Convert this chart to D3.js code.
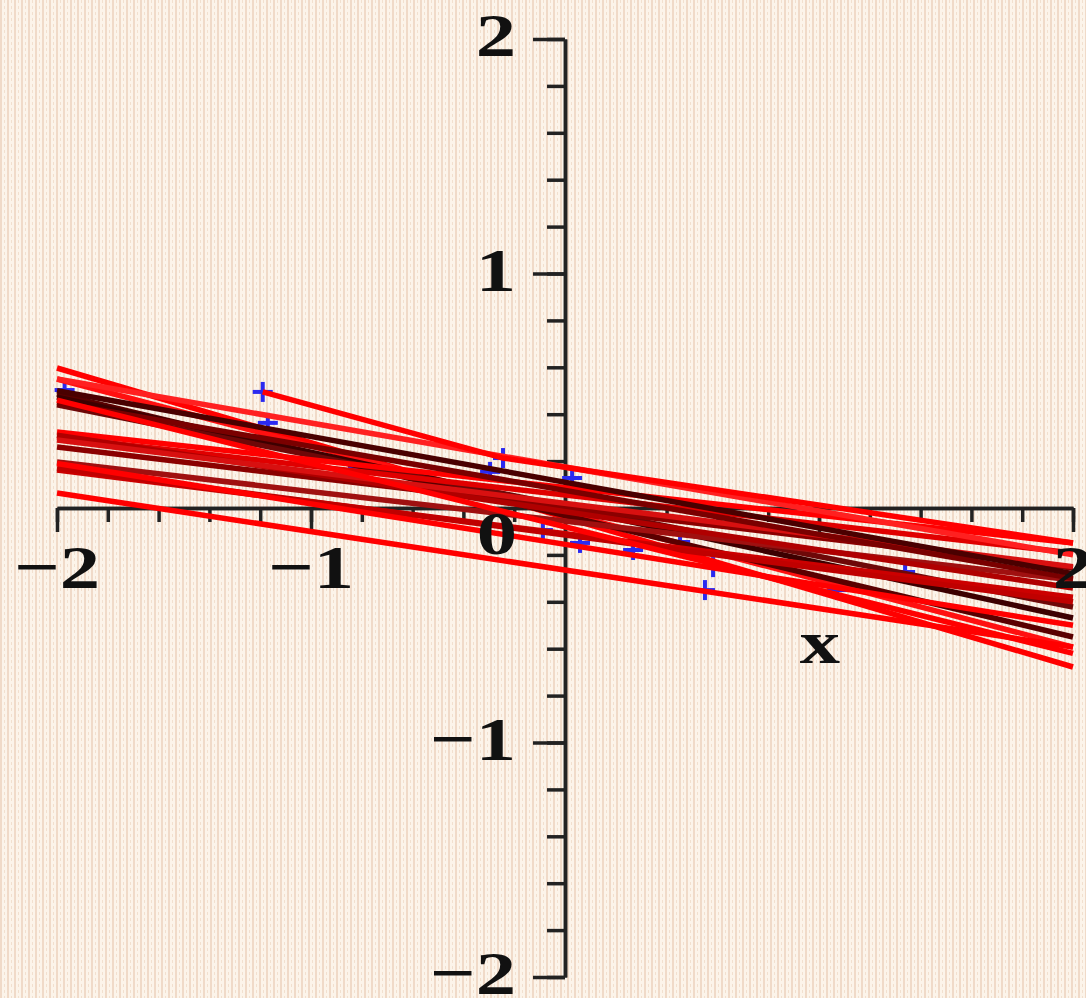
<!DOCTYPE html>
<html>
<head>
<meta charset="utf-8">
<script src="https://cdn.jsdelivr.net/npm/d3@7"></script>
<style>
  html, body { margin: 0; padding: 0; overflow: hidden; background: #faf0e4; }
  svg { display: block; }
</style>
</head>
<body>
<main></main>
<script>
// fitted lines: y value at the left end (x = -2) and right end (x = 2)
const lineLeft  = [0.597, 0.550, 0.486, 0.473, 0.440, 0.324, 0.303, 0.260, 0.196, 0.162, 0.064,
                   0.310, 0.290, 0.450, 0.500, 0.550, 0.170, 0.190, 0.460];
const lineRight = [-0.678, -0.593, -0.550, -0.469, -0.422, -0.149, -0.192, -0.256, -0.307, -0.380, -0.593,
                   -0.341, -0.250, -0.300, -0.280, -0.200, -0.400, -0.500, -0.620];
const lineColours = ["#ff0000", "#ff1010", "#5a0000", "#3d0000", "#6e0808", "#ff0000", "#e00000", "#8b0000",
                     "#a01010", "#cc0000", "#ff0000", "#b00000", "#d81010", "#7a0000", "#4a0000", "#ff2020",
                     "#c00000", "#ff0000", "#ff0000"];

// broken line along the top of the bundle
const topPathX = [-1.19, -0.244, 2];
const topPathY = [0.495, 0.213, -0.149];

// data points (blue crosses)
const pointX = [-1.97, -1.19, -1.17, -0.815, -0.244, -0.295, 0.028, -0.087, 0.059, 0.268, 0.583, 0.551, 1.071, 1.339, 0.453];
const pointY = [0.503, 0.495, 0.363, 0.175, 0.213, 0.154, 0.128, -0.094, -0.149, -0.179, -0.252, -0.350, -0.350, -0.273, -0.145];

const xTicks = [-2, -1, 2];
const yTicks = [2, 1, -1, -2];

const width = 1086, height = 998;

d3.select("main").append("svg").attr("width", width).attr("height", height);
let svg = d3.select("svg");

// textured beige background
let defs = svg.append("defs");
let pat = defs.append("pattern")
    .attr("id", "paper")
    .attr("width", 7).attr("height", 6)
    .attr("patternUnits", "userSpaceOnUse");
pat.append("rect").attr("width", 7).attr("height", 6).attr("fill", "#fcf4ea");
pat.append("rect").attr("x", 0).attr("width", 2).attr("height", 6).attr("fill", "#eed6c2").attr("opacity", 0.85);
pat.append("rect").attr("x", 4).attr("y", 0).attr("width", 1).attr("height", 3).attr("fill", "#f2e0cf");

svg.append("rect").attr("width", width).attr("height", height).attr("fill", "url(#paper)");

let x = d3.scaleLinear().domain([-2, 2]).range([57, 1073]);
let y = d3.scaleLinear().domain([-2, 2]).range([977, 39]);

let minorX = d3.range(-10, 11).map(i => i / 5).filter(v => Math.abs(v) > 1e-9);
let minorY = d3.range(-10, 11).map(i => i / 5).filter(v => Math.abs(v) > 1e-9);

// x axis
let xAxisMinor = d3.axisBottom(x).tickValues(minorX).tickSize(14).tickSizeOuter(0).tickFormat("");
let xAxisMajor = d3.axisBottom(x).tickValues([-2, -1, 1, 2]).tickSize(24).tickSizeOuter(0).tickFormat("");
let gx = svg.append("g").attr("transform", `translate(0,${y(0)})`);
gx.append("g").call(xAxisMinor);
gx.append("g").call(xAxisMajor);

// y axis
let yAxisMinor = d3.axisLeft(y).tickValues(minorY).tickSize(18).tickSizeOuter(0).tickFormat("");
let yAxisMajor = d3.axisLeft(y).tickValues([-2, -1, 1, 2]).tickSize(32).tickSizeOuter(0).tickFormat("");
let gy = svg.append("g").attr("transform", `translate(${x(0)},0)`);
gy.append("g").call(yAxisMinor);
gy.append("g").call(yAxisMajor);

svg.selectAll(".domain").attr("stroke", "#222").attr("stroke-width", 3.5);
svg.selectAll(".tick line").attr("stroke", "#222").attr("stroke-width", 3.5);

// markers first, lines are painted over them
let cross = 10;
let markers = svg.append("g").selectAll("g")
    .data(pointX.map((px, i) => [px, pointY[i]]))
    .enter()
    .append("g")
    .attr("transform", d => `translate(${x(d[0])},${y(d[1])})`);
markers.append("line").attr("x1", -cross).attr("x2", cross).attr("y1", 0).attr("y2", 0);
markers.append("line").attr("x1", 0).attr("x2", 0).attr("y1", -cross).attr("y2", cross);
markers.selectAll("line").attr("stroke", "#2a2af0").attr("stroke-width", 4);

svg.append("g").selectAll("line")
    .data(lineLeft.map((l, i) => ({ l: l, r: lineRight[i], c: lineColours[i] })))
    .enter()
    .append("line")
    .attr("x1", x(-2)).attr("x2", x(2))
    .attr("y1", d => y(d.l)).attr("y2", d => y(d.r))
    .attr("stroke", d => d.c)
    .attr("stroke-width", 5.5);

let lineGen = d3.line().x(d => x(d[0])).y(d => y(d[1]));
svg.append("path")
    .datum(topPathX.map((v, i) => [v, topPathY[i]]))
    .attr("d", lineGen)
    .attr("fill", "none")
    .attr("stroke", "#ff0000")
    .attr("stroke-width", 5.5);

// labels
function label(txt, cx, baseline, anchor) {
    svg.append("text")
        .attr("transform", `translate(${cx},${baseline}) scale(1.3,1)`)
        .attr("text-anchor", anchor || "middle")
        .attr("font-family", "'Liberation Serif', 'Times New Roman', serif")
        .attr("font-weight", "bold")
        .attr("font-size", 62)
        .attr("fill", "#111")
        .text(txt);
}
let fmt = v => (v < 0 ? "\u2212" : "") + Math.abs(v);
xTicks.forEach(v => label(fmt(v), x(v), 588));
label("0", 497, 554);
yTicks.forEach(v => label(fmt(v), 516, y(v) + 17, "end"));
label("x", 820, 663);
</script>
</body>
</html>
